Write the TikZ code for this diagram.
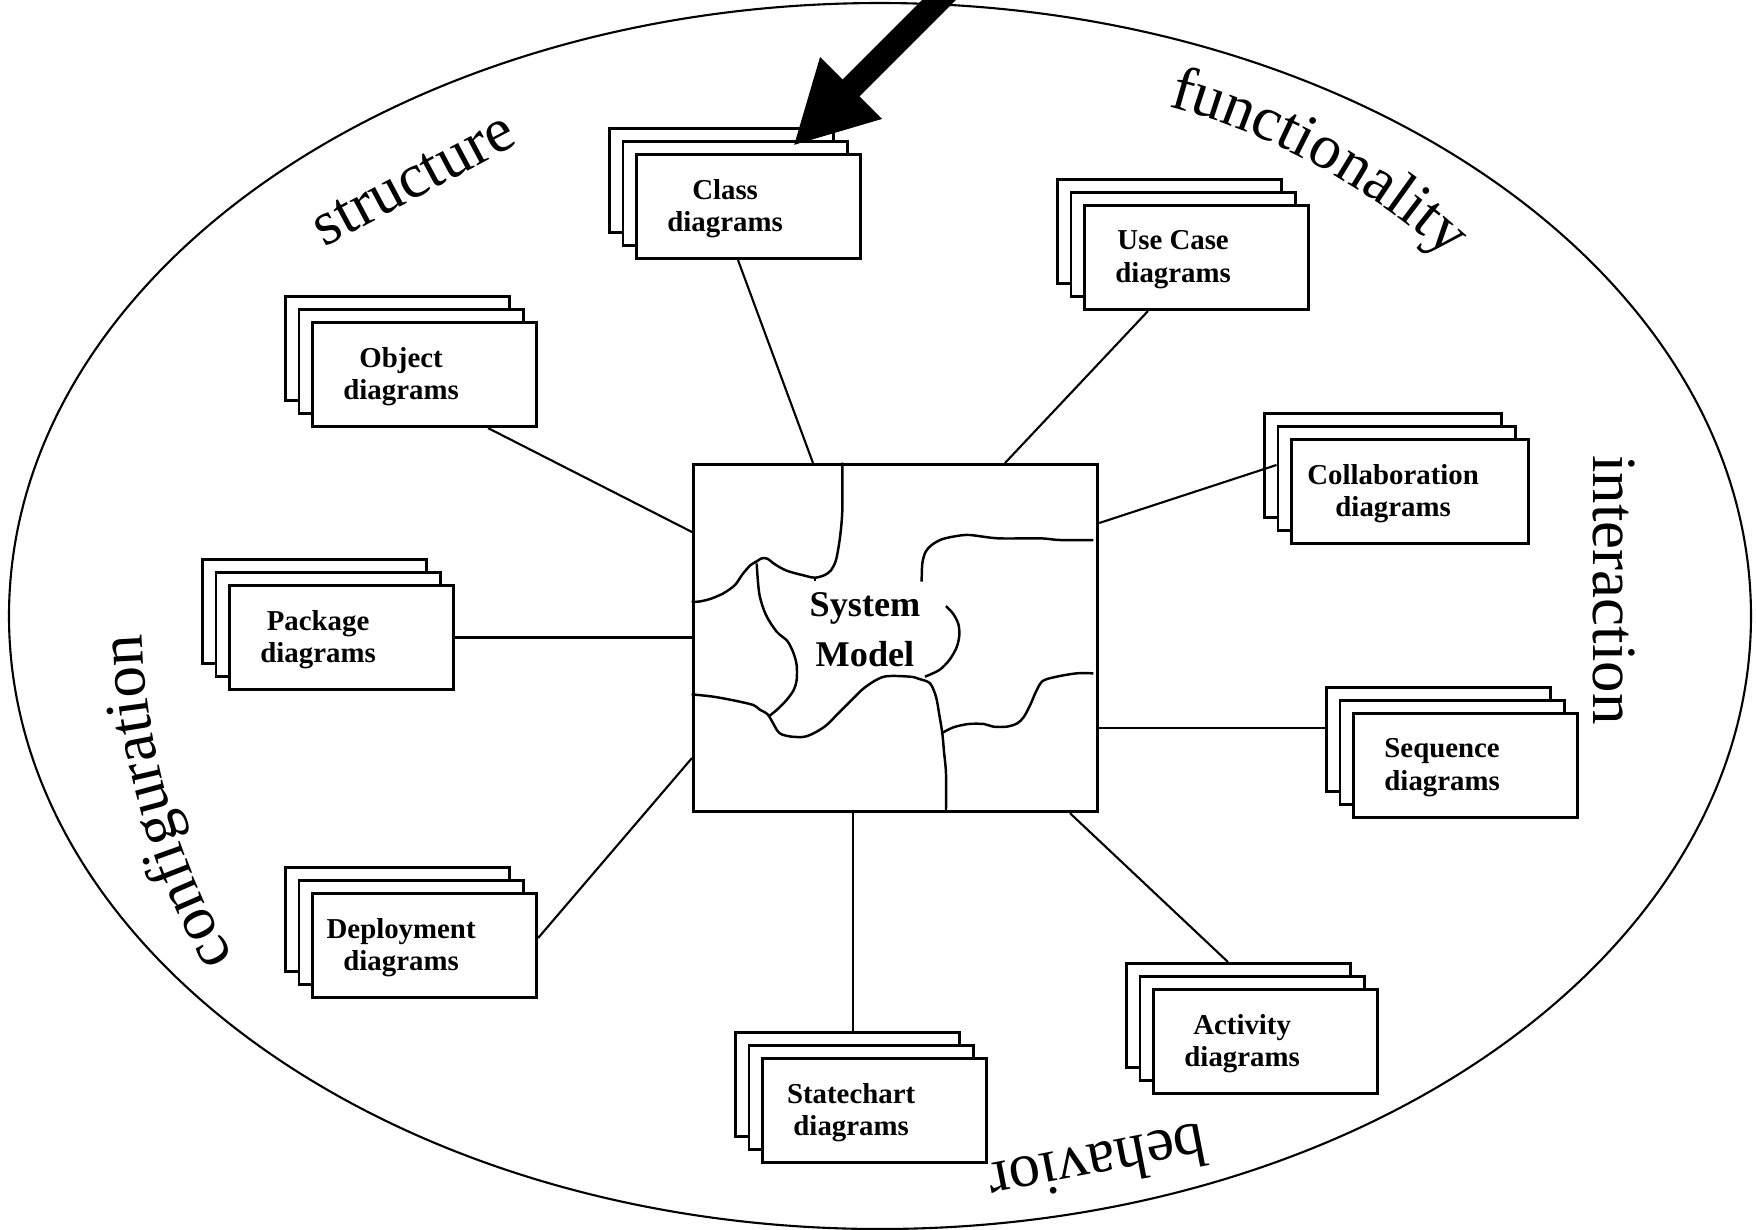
\documentclass[tikz,border=0pt]{standalone}
\usepackage{fontspec}
\setmainfont{Liberation Serif}
\usepackage{tikz}
\usetikzlibrary{calc,arrows.meta,decorations.text}

\newcommand{\viewfont}{\fontsize{17.9}{20}\selectfont}

\tikzset{
  sheet/.style={draw, line width=0.85pt, fill=white, minimum width=2.24cm,
    minimum height=1.04cm, inner sep=0pt, anchor=north west},
  doctext/.style={font=\fontsize{8.2}{9.3}\selectfont\bfseries, align=center, inner sep=0pt},
  link/.style={line width=0.6pt},
  wiggle/.style={line width=0.7pt},
  viewlabel/.style={font=\viewfont, inner sep=0pt}
}

% stack of three sheets: [width] name, x, y of the front sheet, text
\newcommand{\diagstack}[5][2.24cm]{%
  \node[sheet, minimum width=#1] (#2-1) at ({#3-27},{-#4+26}) {};
  \node[sheet, minimum width=#1] (#2-2) at ({#3-13.5},{-#4+13}) {};
  \node[sheet, minimum width=#1] (#2) at (#3,-#4) {};
  \node[doctext] (#2-t) at ($(#2.east)+(-137,-2)$) {#5};
}

\begin{document}
\begin{tikzpicture}[x=0.01cm, y=0.01cm]
  \fill[white] (0,0) rectangle (1756,-1229);
  \useasboundingbox (0,0) rectangle (1756,-1229);
  \clip (0,0) rectangle (1756,-1229);

  % the outer ellipse
  \draw[line width=0.6pt] (880,-616) ellipse [x radius=871, y radius=613];

  % view labels
  \node[viewlabel, rotate=28] (structure) at (414,-180) {structure};
  \path[decorate, decoration={text along path, text={|\viewfont|functionality}, text align=center}]
    (992,-763) ++(75:680) arc[start angle=75, end angle=47.9, radius=680];
  \node[viewlabel, rotate=-90] (interaction) at (1614,-590) {interaction};
  \node[viewlabel, rotate=191] (behavior) at (1098,-1165) {behavior};
  \path[decorate, decoration={text along path, text={|\viewfont|configuration}, text align=center}]
    (838,-613) ++(209.7:696) arc[start angle=209.7, end angle=181.7, radius=696];

  % system model
  \node[draw, line width=0.85pt, minimum width=4.04cm, minimum height=3.47cm,
    inner sep=0pt, anchor=north west] (sm) at (692,-463) {};
  \begin{scope}[shift={(680,-450)}, scale=1/3]
    \draw[wiggle] plot[smooth] coordinates {(487,-38) (487,-180) (480,-262) (468,-330) (452,-362)
      (432,-376) (405,-383) (378,-378) (320,-362) (285,-343) (262,-326) (245,-325) (232,-333)
      (212,-345) (188,-372) (165,-405) (130,-430) (90,-447) (55,-455) (35,-455)};
    \draw[wiggle] (405,-383) -- (405,-393);
    \draw[wiggle] plot[smooth] coordinates {(230,-340) (238,-432) (258,-495) (290,-545) (322,-573)
      (340,-608) (350,-645) (350,-690) (340,-722) (318,-752) (290,-780) (265,-800)};
    \draw[wiggle] plot[smooth] coordinates {(35,-733) (100,-740) (165,-752) (220,-765) (238,-778)
      (262,-792) (275,-812) (292,-842) (305,-853) (335,-860) (375,-860) (410,-845) (440,-825)
      (470,-795) (510,-755) (555,-712) (612,-680) (690,-680) (718,-687) (750,-700) (768,-740)
      (778,-795) (787,-850) (792,-905) (798,-970) (798,-1080)};
    \draw[wiggle] plot[smooth] coordinates {(788,-848) (820,-832) (865,-822) (912,-822) (940,-830)
      (980,-830) (1012,-820) (1032,-800) (1052,-762) (1068,-725) (1088,-693) (1130,-680)
      (1190,-670) (1240,-670)};
    \draw[wiggle] plot[smooth] coordinates {(798,-468) (820,-492) (835,-522) (838,-555) (830,-592)
      (808,-630) (778,-660) (735,-680)};
    \draw[wiggle] plot[smooth] coordinates {(725,-395) (727,-340) (737,-305) (755,-285) (785,-268)
      (830,-258) (870,-255) (955,-265) (1080,-265) (1140,-270) (1240,-270)};
  \end{scope}
  \node[font=\fontsize{10.3}{14.2}\selectfont\bfseries, align=center, inner sep=0pt]
    (sm-t) at (865,-630) {System\\Model};

  % the diagrams
  \diagstack{class}{635}{153}{Class\\diagrams}
  \diagstack{object}{311}{321}{Object\\diagrams}
  \diagstack{package}{228}{584}{Package\\diagrams}
  \diagstack{deploy}{311}{892}{Deployment\\diagrams}
  \diagstack{state}{761}{1057}{Statechart\\diagrams}
  \diagstack{activity}{1152}{988}{Activity\\diagrams}
  \diagstack{seq}{1352}{712}{Sequence\\diagrams}
  \diagstack[2.37cm]{collab}{1290}{438}{Collaboration\\diagrams}
  \diagstack{usecase}{1083}{204}{Use Case\\diagrams}

  % links to the model
  \draw[link] ($(class.south west)+(103,0)$) -- ($(sm.north west)+(121,0)$);
  \draw[link] ($(usecase.south west)+(65,0)$) -- ($(sm.north west)+(313,0)$);
  \draw[link] ($(object.south west)+(177,0)$) -- ($(sm.north west)+(0,-69)$);
  \draw[link] (package.east) -- (sm.west |- package.east);
  \draw[link] ($(deploy.north east)+(0,-46)$) -- ($(sm.north west)+(0,-295)$);
  \draw[link] ($(state-1.north west)+(119,0)$) -- ($(sm.south west)+(161,0)$);
  \draw[link] ($(sm.south west)+(378,0)$) -- ($(activity-1.north west)+(103,0)$);
  \draw[link] ($(sm.north east)+(0,-265)$) -- ($(seq-1.north west)+(0,-42)$);
  \draw[link] ($(sm.north east)+(0,-60)$) -- ($(collab-2.north west)+(0,-40)$);

  % the big arrow
  \coordinate (feed) at (975,36);
  \coordinate (aim) at (793,-146);
  \draw[line width=0.24cm, -{Triangle[length=0.82cm, width=0.81cm]}] (feed) -- (aim);
\end{tikzpicture}
\end{document}
